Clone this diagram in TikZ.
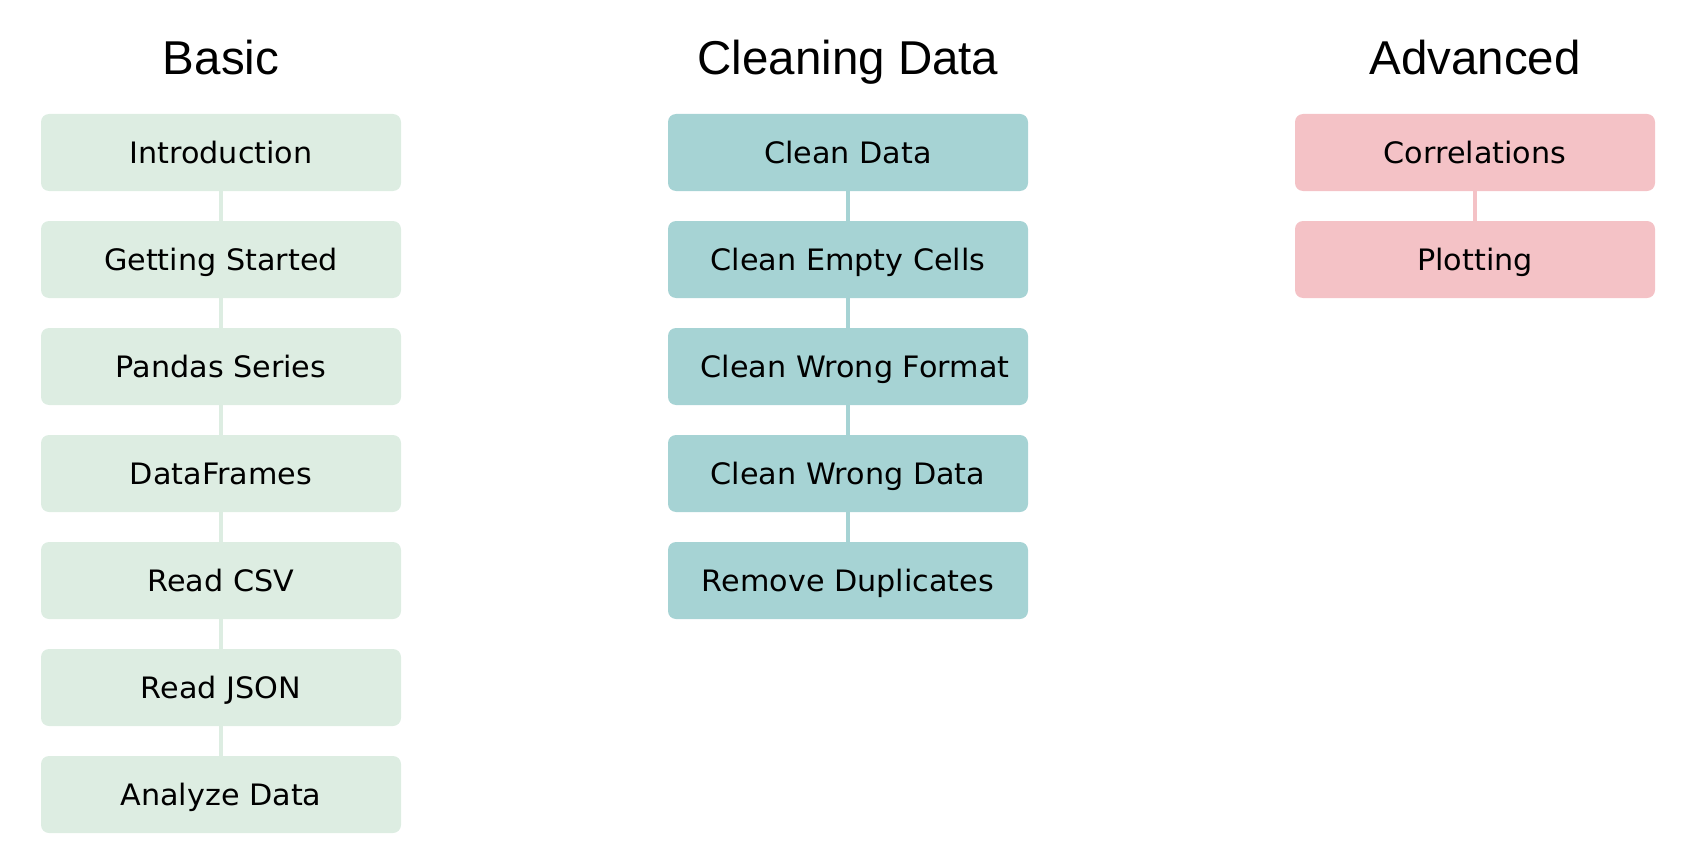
\documentclass[tikz,border=0pt]{standalone}
\usepackage{fontspec}
\setmainfont{DejaVu Sans}
\newfontfamily\boxfont[FakeStretch=1.025]{DejaVu Sans}
\newfontfamily\titlefont{Liberation Sans}
\definecolor{basicfill}{RGB}{221,237,226}
\definecolor{cleanfill}{RGB}{166,211,212}
\definecolor{advfill}{RGB}{244,194,198}
\tikzset{
  box/.style={rounded corners=8pt, minimum width=360pt, minimum height=77pt, inner sep=0pt,
    text height=21.5pt, text depth=0pt, font=\boxfont\fontsize{29.5}{35}\selectfont},
  bbox/.style={box, fill=basicfill},
  cbox/.style={box, fill=cleanfill},
  abox/.style={box, fill=advfill},
  ttl/.style={anchor=base, inner sep=0pt, font=\titlefont\fontsize{47.5}{56}\selectfont},
  link/.style={line width=4pt}
}
\begin{document}
\begin{tikzpicture}[x=1pt,y=-1pt]
\useasboundingbox (0,0) rectangle (1698,848);
% titles
\node[ttl] (tb) at (221,75) {Basic};
\node[ttl] (tc) at (848,75) {Cleaning Data};
\node[ttl] (ta) at (1475,75) {Advanced};
% basic column
\node[bbox] (b1) at (221,152.5) {Introduction};
\node[bbox] (b2) at (221,259.5) {Getting Started};
\node[bbox] (b3) at (221,366.5) {Pandas Series};
\node[bbox] (b4) at (221,473.5) {DataFrames};
\node[bbox] (b5) at (221,580.5) {Read CSV};
\node[bbox] (b6) at (221,687.5) {Read JSON};
\node[bbox] (b7) at (221,794.5) {Analyze Data};
\foreach \a/\b in {b1/b2,b2/b3,b3/b4,b4/b5,b5/b6,b6/b7}
  \draw[link, basicfill] (\a.south) -- (\b.north);
% cleaning column
\node[cbox] (c1) at (848,152.5) {Clean Data};
\node[cbox] (c2) at (848,259.5) {Clean Empty Cells};
\node[cbox] (c3) at (848,366.5) {\hspace{14pt}Clean Wrong Format};
\node[cbox] (c4) at (848,473.5) {Clean Wrong Data};
\node[cbox] (c5) at (848,580.5) {Remove Duplicates};
\foreach \a/\b in {c1/c2,c2/c3,c3/c4,c4/c5}
  \draw[link, cleanfill] (\a.south) -- (\b.north);
% advanced column
\node[abox] (a1) at (1475,152.5) {Correlations};
\node[abox] (a2) at (1475,259.5) {Plotting};
\draw[link, advfill] (a1.south) -- (a2.north);
\end{tikzpicture}
\end{document}
